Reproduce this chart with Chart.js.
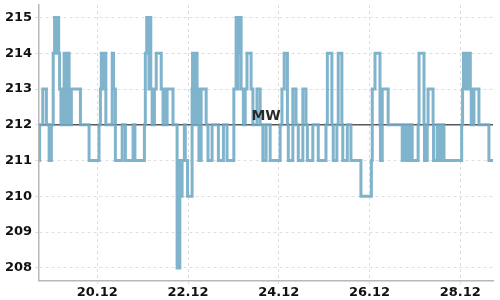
<!DOCTYPE html>
<html>
<head>
<meta charset="utf-8">
<script src="https://cdn.jsdelivr.net/npm/chart.js@4"></script>
<style>
  html, body { margin: 0; padding: 0; background: #fff; }
  #wrap { width: 500px; height: 300px; }
</style>
</head>
<body>
<div id="wrap"><canvas id="chart"></canvas></div>
<script>
// Zeitpunkte der Wertänderungen (Tag im Dezember, dezimal) und neuer Wert ab dort
const changeDays = [
  18.72, 18.73, 18.80, 18.88, 18.94, 18.99, 19.03, 19.06, 19.08, 19.09,
  19.11, 19.12, 19.15, 19.17, 19.20, 19.23, 19.27, 19.29, 19.30, 19.32,
  19.34, 19.38, 19.43, 19.63, 19.82, 20.04, 20.07, 20.09, 20.13, 20.15,
  20.19, 20.33, 20.36, 20.40, 20.55, 20.62, 20.79, 20.83, 21.04, 21.06,
  21.09, 21.11, 21.12, 21.14, 21.15, 21.18, 21.21, 21.26, 21.30, 21.41,
  21.45, 21.48, 21.51, 21.54, 21.67, 21.76, 21.82, 21.84, 21.87, 21.92,
  21.94, 21.99, 22.09, 22.10, 22.12, 22.13, 22.14, 22.16, 22.18, 22.19,
  22.20, 22.24, 22.29, 22.40, 22.44, 22.53, 22.67, 22.78, 22.86, 23.01,
  23.06, 23.08, 23.10, 23.12, 23.14, 23.17, 23.19, 23.22, 23.26, 23.30,
  23.39, 23.43, 23.52, 23.59, 23.65, 23.72, 23.81, 24.03, 24.07, 24.12,
  24.19, 24.21, 24.31, 24.38, 24.43, 24.53, 24.60, 24.63, 24.75, 24.87,
  25.04, 25.07, 25.17, 25.20, 25.28, 25.31, 25.39, 25.41, 25.51, 25.59,
  25.81, 26.04, 26.06, 26.12, 26.23, 26.24, 26.28, 26.41, 26.72, 26.78,
  26.83, 26.89, 26.94, 27.07, 27.09, 27.20, 27.21, 27.27, 27.29, 27.40,
  27.41, 27.49, 27.53, 27.58, 27.64, 28.03, 28.05, 28.07, 28.09, 28.11,
  28.14, 28.16, 28.22, 28.24, 28.30, 28.41, 28.63, 28.72
];
const changeValues = [
  211, 212, 213, 212, 211, 212, 214, 215, 214, 215,
  214, 215, 214, 213, 212, 213, 214, 212, 214, 212,
  214, 212, 213, 212, 211, 212, 213, 214, 213, 214,
  212, 214, 213, 211, 212, 211, 212, 211, 212, 214,
  215, 214, 215, 213, 215, 213, 212, 213, 214, 213,
  212, 213, 212, 213, 212, 208, 211, 210, 211, 212,
  211, 210, 213, 214, 212, 214, 212, 214, 212, 214,
  213, 211, 213, 212, 211, 212, 211, 212, 211, 213,
  215, 213, 215, 214, 215, 213, 213, 212, 213, 214,
  213, 212, 213, 212, 211, 212, 211, 212, 213, 214,
  212, 211, 213, 212, 211, 213, 212, 211, 212, 211,
  212, 214, 212, 211, 212, 214, 212, 211, 212, 211,
  210, 211, 213, 214, 212, 211, 213, 212, 211, 212,
  211, 212, 211, 212, 214, 212, 211, 212, 213, 212,
  211, 212, 211, 212, 211, 212, 213, 214, 213, 214,
  213, 214, 213, 212, 213, 212, 211, 211
];
const meanValue = 212;
const meanLabel = 'MW';
const xTicks = [20, 22, 24, 26, 28];
const yTicks = [208, 209, 210, 211, 212, 213, 214, 215];

const series = changeDays.map((d, i) => ({ x: d, y: changeValues[i] }));
const meanLine = [
  { x: changeDays[0], y: meanValue },
  { x: changeDays[changeDays.length - 1], y: meanValue }
];

// Beschriftung "MW" mittig über der Mittelwertlinie
const meanLabelPlugin = {
  id: 'meanLabel',
  afterDatasetsDraw(chart) {
    const { ctx, chartArea, scales } = chart;
    const y = scales.y.getPixelForValue(meanValue);
    ctx.save();
    ctx.font = 'bold 14px "DejaVu Sans"';
    ctx.fillStyle = '#2a2a2a';
    ctx.textAlign = 'center';
    ctx.textBaseline = 'bottom';
    ctx.fillText(meanLabel, (chartArea.left + chartArea.right) / 2, y - 1);
    ctx.restore();
  }
};

new Chart(document.getElementById('chart'), {
  type: 'line',
  data: {
    datasets: [
      {
        data: series,
        stepped: 'before',
        borderColor: 'rgba(110, 168, 197, 0.88)',
        borderWidth: 3,
        pointRadius: 0,
        fill: false
      },
      {
        data: meanLine,
        borderColor: 'rgba(60, 60, 60, 0.85)',
        borderWidth: 1.5,
        pointRadius: 0,
        fill: false
      }
    ]
  },
  options: {
    responsive: true,
    maintainAspectRatio: false,
    animation: false,
    layout: { padding: { top: 5, right: 7, left: 2, bottom: 0 } },
    plugins: {
      legend: { display: false },
      tooltip: { enabled: false }
    },
    scales: {
      x: {
        type: 'linear',
        min: 18.72,
        max: 28.72,
        afterBuildTicks: (axis) => { axis.ticks = xTicks.map(v => ({ value: v })); },
        ticks: {
          callback: (v) => v + '.12',
          color: '#111',
          font: { family: '"DejaVu Sans"', size: 13, weight: 'bold' },
          maxRotation: 0,
          padding: 0
        },
        grid: { color: '#dddddd', tickLength: 4, drawTicks: true },
        border: { color: '#b8b8b8', width: 1.5, dash: [3, 3] }
      },
      y: {
        min: 207.65,
        max: 215.35,
        afterBuildTicks: (axis) => { axis.ticks = yTicks.map(v => ({ value: v })); },
        afterFit: (axis) => { axis.paddingTop = 0; axis.paddingBottom = 0; },
        ticks: {
          color: '#111',
          font: { family: '"DejaVu Sans"', size: 13, weight: 'bold' },
          padding: 3
        },
        grid: { color: '#dddddd', tickLength: 4, drawTicks: true },
        border: { color: '#b8b8b8', width: 1.5, dash: [3, 3] }
      }
    }
  },
  plugins: [meanLabelPlugin]
});
</script>
</body>
</html>
